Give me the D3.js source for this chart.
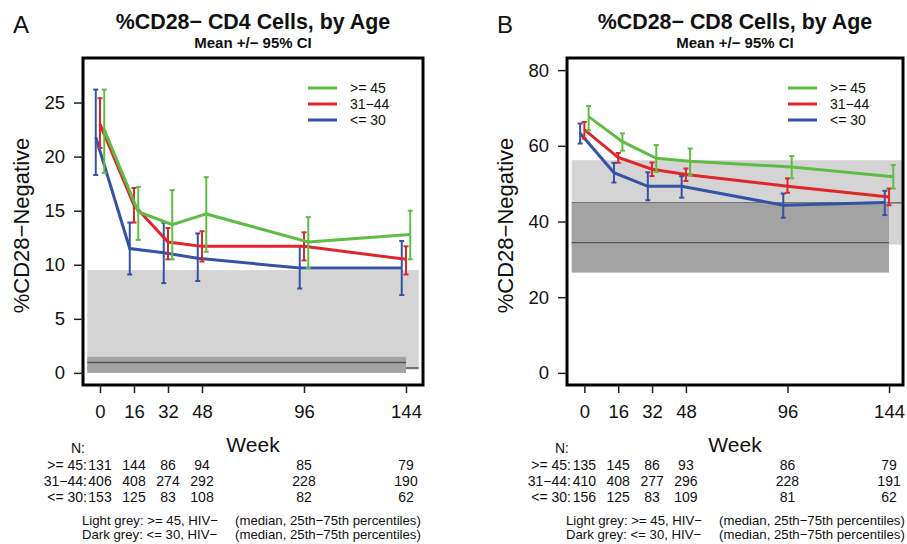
<!DOCTYPE html>
<html>
<head>
<meta charset="utf-8">
<script src="https://cdn.jsdelivr.net/npm/d3@7"></script>
<style>
  body { margin: 0; background: #fff; }
  text { font-family: "Liberation Sans", Arial, sans-serif; fill: #111; }
</style>
</head>
<body>
<div id="chart"></div>
<script>
// Weeks on study and the three age groups
var weeks = [0, 16, 32, 48, 96, 144];
var groupLabels = [">= 45", "31\u221244", "<= 30"];
var groupColors = ["#5fbd45", "#e0262c", "#3552a6"];
var groupShift = [2, 0, -2];   // weeks, so bars don't sit on top of each other

// Panel A: %CD28- CD4 (rows: >=45, 31-44, <=30)
var cd4Mean = [
  [22.5, 14.9, 13.7, 14.7, 12.1, 12.8],
  [23.0, 15.5, 12.1, 11.7, 11.7, 10.5],
  [21.8, 11.5, 11.1, 10.6, 9.7, 9.7]
];
var cd4Lower = [
  [18.5, 12.3, 10.5, 11.2, 9.7, 10.5],
  [20.8, 13.9, 10.5, 10.3, 10.4, 9.1],
  [18.3, 9.1, 8.3, 8.5, 7.8, 7.2]
];
var cd4Upper = [
  [26.2, 17.2, 16.9, 18.1, 14.4, 15.0],
  [25.4, 17.1, 13.4, 13.1, 13.0, 11.7],
  [26.2, 13.9, 13.9, 12.9, 11.7, 12.2]
];
var cd4N = [
  [131, 144, 86, 94, 85, 79],
  [406, 408, 274, 292, 228, 190],
  [153, 125, 83, 108, 82, 62]
];
// HIV- reference bands: [25th, median, 75th]
var cd4Light = [0.3, 0.45, 9.5];
var cd4Dark = [0, 0.96, 1.48];
var cd4Ticks = [0, 5, 10, 15, 20, 25];

// Panel B: %CD28- CD8
var cd8Mean = [
  [67.7, 61.1, 56.7, 55.9, 54.4, 51.8],
  [64.3, 56.9, 53.8, 52.4, 49.3, 46.5],
  [63.3, 52.9, 49.3, 49.3, 44.3, 45.0]
];
var cd8Lower = [
  [64.1, 58.7, 53.1, 52.2, 51.4, 48.7],
  [61.9, 55.5, 52.0, 50.7, 47.6, 44.3],
  [60.6, 50.3, 45.6, 46.3, 41.0, 41.7]
];
var cd8Upper = [
  [70.5, 63.3, 60.2, 59.3, 57.3, 54.9],
  [66.3, 58.1, 55.6, 54.0, 51.4, 48.7],
  [65.9, 55.5, 53.0, 52.0, 47.4, 48.1]
];
var cd8N = [
  [135, 145, 86, 93, 86, 79],
  [410, 408, 277, 296, 228, 191],
  [156, 125, 83, 109, 81, 62]
];
var cd8Light = [33.9, 44.9, 56.2];
var cd8Dark = [26.5, 34.4, 44.9];
var cd8Ticks = [0, 20, 40, 60, 80];

// week span of the light and dark bands
var lightWeeks = [-6, 150];
var darkWeeks = [-6, 144];

var svg = d3.select("#chart")
  .append("svg")
  .attr("width", 907)
  .attr("height", 544);

function drawPanel(p) {
  var x = d3.scaleLinear().domain(p.xDomain).range([p.left, p.right]);
  var y = d3.scaleLinear().domain(p.yDomain).range([p.bottom, p.top]);
  var g = svg.append("g");

  // reference bands
  [[p.light, lightWeeks, "#d4d4d4"], [p.dark, darkWeeks, "#a3a3a3"]].forEach(function(b) {
    var q = b[0], w = b[1];
    g.append("rect")
      .attr("x", x(w[0]))
      .attr("width", x(w[1]) - x(w[0]))
      .attr("y", y(q[2]))
      .attr("height", y(q[0]) - y(q[2]))
      .attr("fill", b[2]);
    g.append("line")
      .attr("x1", x(w[0])).attr("x2", x(w[1]))
      .attr("y1", y(q[1])).attr("y2", y(q[1]))
      .attr("stroke", "#555").attr("stroke-width", 1.3);
  });

  // error bars, then mean lines; draw youngest first
  for (var k = 2; k >= 0; k--) {
    var col = groupColors[k];
    var pts = weeks.map(function(w, i) {
      return { x: x(w + groupShift[k]), m: p.mean[k][i], lo: p.lower[k][i], hi: p.upper[k][i] };
    });
    var bars = g.append("g").attr("stroke", col).attr("stroke-width", 2);
    pts.forEach(function(d) {
      bars.append("line").attr("x1", d.x).attr("x2", d.x).attr("y1", y(d.lo)).attr("y2", y(d.hi));
      bars.append("line").attr("x1", d.x - 2.5).attr("x2", d.x + 2.5).attr("y1", y(d.lo)).attr("y2", y(d.lo));
      bars.append("line").attr("x1", d.x - 2.5).attr("x2", d.x + 2.5).attr("y1", y(d.hi)).attr("y2", y(d.hi));
    });
    g.append("path")
      .datum(pts)
      .attr("fill", "none")
      .attr("stroke", col)
      .attr("stroke-width", 3)
      .attr("d", d3.line().x(function(d) { return d.x; }).y(function(d) { return y(d.m); }));
  }

  // box
  g.append("rect")
    .attr("x", p.left).attr("y", p.top)
    .attr("width", p.right - p.left).attr("height", p.bottom - p.top)
    .attr("fill", "none").attr("stroke", "#000").attr("stroke-width", 3);

  // axes
  var yAxis = g.append("g")
    .attr("transform", "translate(" + p.left + ",0)")
    .call(d3.axisLeft(y).tickValues(p.ticks).tickSize(9).tickPadding(9));
  var xAxis = g.append("g")
    .attr("transform", "translate(0," + p.bottom + ")")
    .call(d3.axisBottom(x).tickValues(weeks).tickSize(8).tickPadding(12));
  [yAxis, xAxis].forEach(function(a) {
    a.select(".domain").remove();
    a.selectAll("line").attr("stroke", "#222").attr("stroke-width", 1.5);
    a.selectAll("text").attr("font-size", 18.5).attr("fill", "#111")
      .style("font-family", "'Liberation Sans', Arial, sans-serif");
  });

  var mid = (p.left + p.right) / 2;

  // titles
  svg.append("text").attr("x", p.left - 70).attr("y", 33)
    .attr("font-size", 24).text(p.letter);
  svg.append("text").attr("x", mid).attr("y", 29).attr("text-anchor", "middle")
    .attr("font-size", 21.4).attr("font-weight", "bold").text(p.title);
  svg.append("text").attr("x", mid).attr("y", 48).attr("text-anchor", "middle")
    .attr("font-size", 15).attr("font-weight", "bold").text("Mean +/\u2212 95% CI");

  // axis labels
  svg.append("text")
    .attr("transform", "translate(" + (p.left - 54) + "," + ((p.top + p.bottom) / 2 + 4) + ") rotate(-90)")
    .attr("text-anchor", "middle").attr("font-size", 22)
    .text("%CD28\u2212Negative");
  svg.append("text").attr("x", mid).attr("y", 452).attr("text-anchor", "middle")
    .attr("font-size", 21).text("Week");

  // legend
  groupLabels.forEach(function(lab, k) {
    var ly = p.top + 30 + k * 16;
    svg.append("line")
      .attr("x1", p.right - 115).attr("x2", p.right - 86)
      .attr("y1", ly).attr("y2", ly)
      .attr("stroke", groupColors[k]).attr("stroke-width", 3);
    svg.append("text").attr("x", p.right - 73).attr("y", ly + 5)
      .attr("font-size", 14).text(lab);
  });

  // number at risk
  svg.append("text").attr("x", p.left - 5).attr("y", 453).attr("text-anchor", "middle")
    .attr("font-size", 14).text("N:");
  groupLabels.forEach(function(lab, k) {
    var ry = 470 + k * 16;
    svg.append("text").attr("x", p.left + 4).attr("y", ry).attr("text-anchor", "end")
      .attr("font-size", 14).text(lab + ":");
    weeks.forEach(function(w, i) {
      svg.append("text").attr("x", x(w)).attr("y", ry).attr("text-anchor", "middle")
        .attr("font-size", 14).text(p.n[k][i]);
    });
  });

  // footnote
  [["Light grey: >= 45, HIV\u2212", 525], ["Dark grey: <= 30, HIV\u2212", 539]].forEach(function(f) {
    svg.append("text").attr("x", p.left - 1).attr("y", f[1])
      .attr("font-size", 13.2).text(f[0]);
    svg.append("text").attr("x", p.left + 152).attr("y", f[1])
      .attr("font-size", 13.2).text("(median, 25th\u221275th percentiles)");
  });
}

drawPanel({
  letter: "A", title: "%CD28\u2212 CD4 Cells, by Age",
  left: 83, right: 423, top: 58, bottom: 385,
  xDomain: [-8, 152], yDomain: [-1.12, 29.12], ticks: cd4Ticks,
  mean: cd4Mean, lower: cd4Lower, upper: cd4Upper, n: cd4N,
  light: cd4Light, dark: cd4Dark
});

drawPanel({
  letter: "B", title: "%CD28\u2212 CD8 Cells, by Age",
  left: 567, right: 903, top: 58, bottom: 385,
  xDomain: [-8.2, 150.6], yDomain: [-3.2, 83.2], ticks: cd8Ticks,
  mean: cd8Mean, lower: cd8Lower, upper: cd8Upper, n: cd8N,
  light: cd8Light, dark: cd8Dark
});
</script>
</body>
</html>
